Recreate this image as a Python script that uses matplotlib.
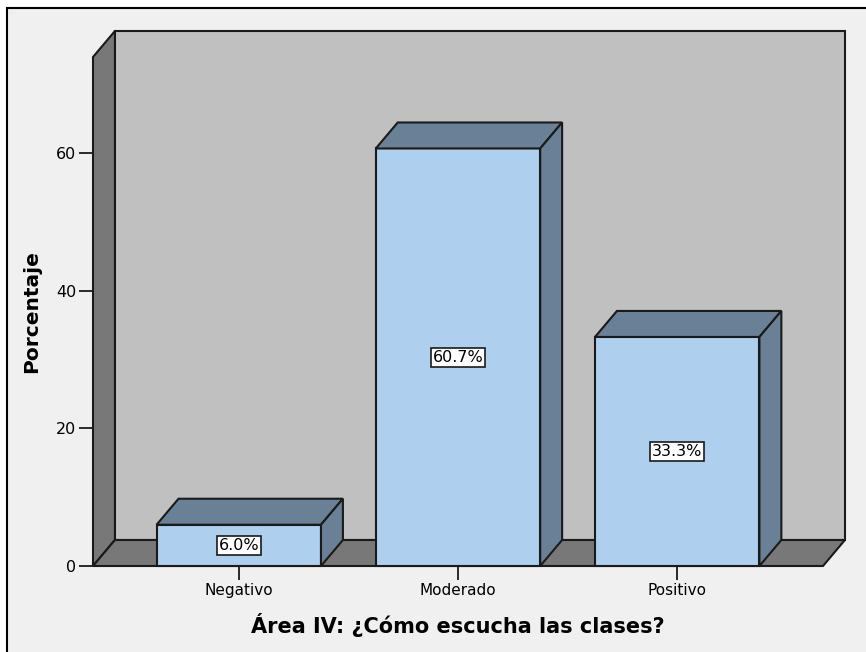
import matplotlib.pyplot as plt
from matplotlib.patches import Polygon, Rectangle

# Data
categories = ['Negativo', 'Moderado', 'Positivo']
values = [6.0, 60.7, 33.3]
labels = ['6.0%', '60.7%', '33.3%']
yticks = [0, 20, 40, 60]

# 3D look parameters (data units)
dx, dy = 0.1, 3.78
xl, xr = -0.665, 2.665
ytop = 74
bw = 0.75

front = '#aecfee'
shade = '#6a8096'
wall = '#c0c0c0'
dark = '#787878'

fig = plt.figure(figsize=(8.66, 6.52), dpi=100)
fig.patch.set_facecolor('white')
# panel background with border (only top/left visible in the reference)
fig.patches.append(Rectangle((7 / 866, -0.1), 1.2, (652 - 8) / 652 + 0.1,
                             transform=fig.transFigure, facecolor='#f0f0f0',
                             edgecolor='black', lw=1.5, zorder=-10))

ax = fig.add_axes([93 / 866, 86 / 652, 730 / 866, 509 / 652])
ax.set_xlim(xl, xr)
ax.set_ylim(0, ytop)
ax.patch.set_visible(False)
for s in ['top', 'right', 'bottom', 'left']:
    ax.spines[s].set_visible(False)

def poly(pts, fc, z):
    ax.add_patch(Polygon(pts, closed=True, facecolor=fc, edgecolor='#1a1a1a',
                         lw=1.5, clip_on=False, zorder=z, joinstyle='miter'))

# back wall, side wall, floor
poly([(xl + dx, dy), (xr + dx, dy), (xr + dx, ytop + dy), (xl + dx, ytop + dy)], wall, 1)
poly([(xl, 0), (xl + dx, dy), (xl + dx, ytop + dy), (xl, ytop)], dark, 2)
poly([(xl, 0), (xr, 0), (xr + dx, dy), (xl + dx, dy)], dark, 2)

# bars
for i, (v, lab) in enumerate(zip(values, labels)):
    x0, x1 = i - bw / 2, i + bw / 2
    poly([(x0, 0), (x1, 0), (x1, v), (x0, v)], front, 3)
    poly([(x0, v), (x1, v), (x1 + dx, v + dy), (x0 + dx, v + dy)], shade, 3)
    poly([(x1, 0), (x1 + dx, dy), (x1 + dx, v + dy), (x1, v)], shade, 3)
    ax.text(i, v / 2, lab, ha='center', va='center', fontsize=11.5, zorder=5,
            bbox=dict(boxstyle='square,pad=0.12', facecolor='white',
                      edgecolor='#1a1a1a', lw=1.2))

ax.set_xticks(range(len(categories)))
ax.set_xticklabels(categories, fontsize=11)
ax.set_yticks(yticks)
ax.set_yticklabels([str(t) for t in yticks], fontsize=11.5)
ax.tick_params(axis='both', direction='out', length=10, width=1.3, color='#1a1a1a', pad=2)
ax.set_xlabel('Área IV: ¿Cómo escucha las clases?', fontsize=15, fontweight='bold', labelpad=11)
ax.set_ylabel('Porcentaje', fontsize=14.5, fontweight='bold', labelpad=11)

fig.savefig('out.png', dpi=100, facecolor=fig.get_facecolor())
